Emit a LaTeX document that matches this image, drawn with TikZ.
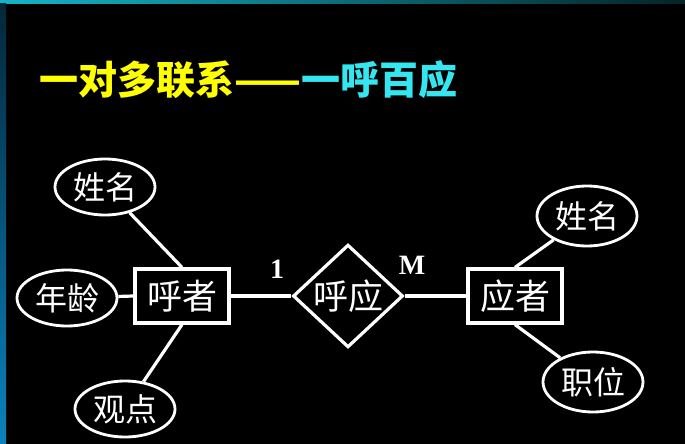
\documentclass[tikz,border=0pt]{standalone}
\usepackage{fontspec}
\newfontfamily\cjk{Noto Sans CJK SC}
\newfontfamily\tnr{Liberation Serif}
\usetikzlibrary{shapes.geometric}
\definecolor{titleyellow}{RGB}{255,255,0}
\definecolor{titlecyan}{RGB}{51,230,240}
\definecolor{edgeteal}{RGB}{20,180,200}
\definecolor{edgeblue}{RGB}{10,130,190}
\tikzset{
  attr/.style={ellipse, draw=white, line width=2.8pt, minimum width=100pt, minimum height=56pt, inner sep=0pt, text=white, font=\cjk\fontsize{32}{32}\selectfont},
  ent/.style={rectangle, draw=white, line width=3.2pt, minimum width=94pt, minimum height=54pt, inner sep=0pt, text=white, font=\cjk\fontsize{35}{35}\selectfont},
  rel/.style={diamond, draw=white, line width=3.2pt, minimum width=110pt, minimum height=100pt, inner sep=0pt, text=white, font=\cjk\fontsize{35}{35}\selectfont},
  conn/.style={draw=white, line width=3.2pt},
  card/.style={text=white, font=\tnr\bfseries\fontsize{28}{28}\selectfont},
}
\begin{document}
\begin{tikzpicture}[x=1pt,y=-1pt]
\fill[black] (0,0) rectangle (685,444);
\useasboundingbox (0,0) rectangle (685,444);
\shade[left color=edgeteal, right color=black!80!edgeteal] (0,0) rectangle (685,3.5);
\shade[top color=black!70!edgeblue, bottom color=edgeblue] (0,3.5) rectangle (6,444);
\node[anchor=west, inner sep=0pt, font=\cjk\bfseries\fontsize{39}{39}\selectfont] (title) at (39,80)
  {\textcolor{titleyellow}{一对多联系——}\textcolor{titlecyan}{一呼百应}};
\node[ent] (hz) at (182,296) {呼者};
\node[ent] (yz) at (515,296) {应者};
\node[rel] (hy) at (348,296) {呼应};
\node[attr] (xm1) at (105,187) {姓名};
\node[attr] (nl) at (67,298) {年龄};
\node[attr] (gd) at (125,409) {观点};
\node[attr, minimum height=60pt] (xm2) at (587,216) {姓名};
\node[attr, minimum height=60pt] (zw) at (593,382) {职位};
\node[card] (one) at (277,269) {1};
\node[card] (many) at (412,265) {M};
\draw[conn] (hz.north) -- (xm1);
\draw[conn] (hz.west) -- (nl);
\draw[conn] (hz.south) -- (gd);
\draw[conn] (hz.east) -- (hy.west);
\draw[conn] (hy.east) -- (yz.west);
\draw[conn] (yz.north) -- (xm2);
\draw[conn] (yz.south) -- (zw);
\end{tikzpicture}
\end{document}
